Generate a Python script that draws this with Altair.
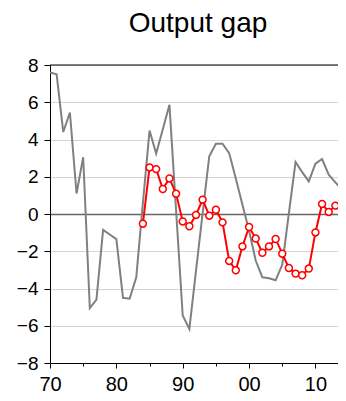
import altair as alt
import pandas as pd

title_text = "Output gap"

gray_years = list(range(1970, 2016))
gray_values = [7.6, 7.5, 4.4, 5.45, 1.1, 3.05, -5.05, -4.6, -0.85, -1.1,
               -1.35, -4.5, -4.55, -3.4, 0.6, 4.48, 3.25, 4.55, 5.86, 0.2,
               -5.45, -6.17, -3.05, 0.05, 3.1, 3.77, 3.77, 3.27, 1.9, 0.5,
               -0.9, -2.5, -3.4, -3.45, -3.56, -2.72, 0.05, 2.79, 2.25, 1.75,
               2.7, 2.95, 2.11, 1.7, 1.3, 0.4]

red_years = list(range(1984, 2016))
red_values = [-0.52, 2.5, 2.41, 1.34, 1.91, 1.09, -0.4, -0.66, -0.05, 0.77,
              -0.09, 0.23, -0.45, -2.52, -3.02, -1.74, -0.7, -1.32, -2.08, -1.74,
              -1.34, -2.13, -2.9, -3.2, -3.29, -2.93, -0.99, 0.54, 0.11, 0.45,
              0.5, -0.3]

x_tick_values = [1970, 1975, 1980, 1985, 1990, 1995, 2000, 2005, 2010]
y_tick_values = [-8, -6, -4, -2, 0, 2, 4, 6, 8]
x_domain = [1970, 2013.4]
y_domain = [-8, 8]

W = 288
H = 298

gray_df = pd.DataFrame({"year": gray_years, "gap": gray_values})
red_df = pd.DataFrame({"year": red_years, "gap": red_values})
top_df = pd.DataFrame({"gap": [y_domain[1]]})
title_df = pd.DataFrame({"t": [title_text]})

FONT = "Liberation Sans"

x_axis = alt.Axis(
    values=x_tick_values,
    labelExpr="datum.value % 10 != 0 ? '' : (datum.value % 100 < 10 ? '0' + (datum.value % 100) : '' + (datum.value % 100))",
    tickSize={"condition": {"test": "datum.value % 10 == 0", "value": 5}, "value": 3},
    labelFontSize=20,
    labelPadding=6,
    labelColor="black",
    labelFont=FONT,
    domainColor="black",
    tickColor="black",
    grid=False,
    labelFlush=False,
    labelOverlap=False,
    title=None,
)

y_axis = alt.Axis(
    values=y_tick_values,
    tickCount=9,
    tickSize=6,
    labelFontSize=19,
    labelPadding=6,
    labelColor="black",
    labelFont=FONT,
    domainColor="black",
    tickColor="black",
    grid=True,
    gridColor={"condition": {"test": "datum.value == 0", "value": "#666666"}, "value": "#d4d4d4"},
    gridWidth={"condition": {"test": "datum.value == 0", "value": 1.5}, "value": 1},
    labelOverlap=False,
    labelFlush=False,
    title=None,
)

x_enc = alt.X("year:Q", scale=alt.Scale(domain=x_domain, nice=False, zero=False), axis=x_axis)
y_enc = alt.Y("gap:Q", scale=alt.Scale(domain=y_domain, nice=False, zero=False), axis=y_axis)

gray_line = alt.Chart(gray_df).mark_line(color="#808080", strokeWidth=2, clip=True).encode(
    x=x_enc, y=y_enc
)

red_line = alt.Chart(red_df).mark_line(color="#ff0000", strokeWidth=2, clip=True).encode(
    x=x_enc, y=y_enc
)

red_points = alt.Chart(red_df).mark_point(
    shape="circle", filled=True, fill="white", stroke="#ff0000", strokeWidth=1.5,
    size=48, opacity=1, clip=True
).encode(x=x_enc, y=y_enc)

top_border = alt.Chart(top_df).mark_rule(color="black", strokeWidth=1).encode(
    y=y_enc
)

title_mark = alt.Chart(title_df).mark_text(
    font=FONT, fontSize=28, color="black", align="center", baseline="alphabetic"
).encode(
    text="t:N", x=alt.value(148), y=alt.value(-33)
)

chart = alt.layer(gray_line, red_line, red_points, top_border, title_mark).properties(
    width=W,
    height=H,
    autosize=alt.AutoSizeParams(type="none"),
    padding={"left": 42, "top": 57, "right": 0, "bottom": 30},
).configure_view(stroke=None).configure(background="white")

chart.save("out.html", embed_options={"renderer": "svg", "actions": False})
